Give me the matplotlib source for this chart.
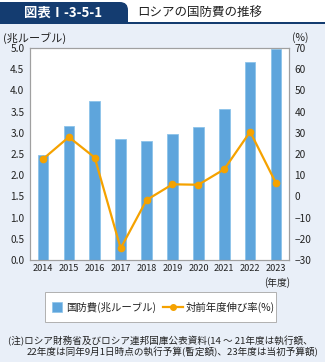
import matplotlib
matplotlib.use('Agg')
import matplotlib.pyplot as plt
from matplotlib.patches import Rectangle, FancyBboxPatch
from matplotlib.lines import Line2D

plt.rcParams['font.family'] = ['Noto Sans CJK JP', 'DejaVu Sans']
plt.rcParams['axes.unicode_minus'] = True

years = ['2014', '2015', '2016', '2017', '2018', '2019', '2020', '2021', '2022', '2023']
spending = [2.48, 3.16, 3.75, 2.85, 2.81, 2.98, 3.14, 3.55, 4.66, 4.98]
growth = [17.6, 28.0, 18.3, -24.5, -1.7, 5.7, 5.5, 12.8, 30.5, 6.2]
left_ticks = [0.0, 0.5, 1.0, 1.5, 2.0, 2.5, 3.0, 3.5, 4.0, 4.5, 5.0]
right_ticks = [-30, -20, -10, 0, 10, 20, 30, 40, 50, 60, 70]

W, H = 325, 362
BAR = '#5ea5dc'
ORANGE = '#f5a200'
NAVY = '#143c70'
TXT = '#222222'


def fx(x):
    return x / W


def fy(y):
    return 1 - y / H


fig = plt.figure(figsize=(W / 100, H / 100), dpi=100)
fig.patch.set_facecolor('#e9eff8')

# header area: white strip, navy tab with rounded top-right corner, navy rule
fig.add_artist(Rectangle((0, fy(23)), 1, 23 / H, transform=fig.transFigure,
                         facecolor='white', edgecolor='none'))
fig.add_artist(FancyBboxPatch((fx(-20), fy(23)), fx(148), 21 / H,
                              boxstyle='round,pad=0,rounding_size=0.025',
                              transform=fig.transFigure, facecolor=NAVY,
                              edgecolor='none', mutation_aspect=W / H))
fig.add_artist(Rectangle((0, fy(23)), fx(128), 10 / H, transform=fig.transFigure,
                         facecolor=NAVY, edgecolor='none'))
fig.add_artist(Rectangle((0, fy(24)), 1, 2 / H, transform=fig.transFigure,
                         facecolor=NAVY, edgecolor='none'))
fig.text(fx(63), fy(12.5), '図表Ⅰ-3-5-1', color='white', fontsize=9.6,
         fontweight='bold', ha='center', va='center')
fig.text(fx(137), fy(12.5), 'ロシアの国防費の推移', color=TXT, fontsize=9,
         ha='left', va='center')

ax = fig.add_axes([fx(30), fy(260), 259 / W, 212 / H])
ax.set_facecolor('white')
x = range(len(years))
ax.bar(x, spending, width=0.41, color=BAR, edgecolor='#8cc3ea', linewidth=0.6,
       zorder=2)
ax.set_xlim(-0.5, len(years) - 0.5)
ax.set_ylim(0, 5.0)
ax.set_yticks(left_ticks)
ax.set_yticklabels([f'{v:.1f}' for v in left_ticks])
ax.set_xticks(list(x))
ax.set_xticklabels(years)
ax.tick_params(length=0, labelsize=7.3, labelcolor=TXT, pad=4)
ax.tick_params(axis='x', labelsize=6.6, pad=3)
for s in ax.spines.values():
    s.set_color('#a0a0a0')
    s.set_linewidth(0.8)

ax2 = ax.twinx()
ax2.plot(x, growth, color=ORANGE, lw=1.6, marker='o', markersize=4.5, zorder=3)
ax2.set_ylim(-30, 70)
ax2.set_yticks(right_ticks)
ax2.set_yticklabels([str(v).replace('-', '\u2212') for v in right_ticks])
ax2.tick_params(length=0, labelsize=7.3, labelcolor=TXT, pad=4)
for s in ax2.spines.values():
    s.set_color('#a0a0a0')
    s.set_linewidth(0.8)

fig.text(fx(3), fy(38), '(兆ルーブル)', fontsize=8, color=TXT, ha='left', va='center')
fig.text(fx(292), fy(38), '(%)', fontsize=7.5, color=TXT, ha='left', va='center')
fig.text(fx(277), fy(283), '(年度)', fontsize=7, color=TXT, ha='center', va='center')

# legend box
fig.add_artist(Rectangle((fx(45), fy(322)), 231 / W, 30 / H, transform=fig.transFigure,
                         facecolor='white', edgecolor='#b0b0b0', linewidth=0.7))
fig.add_artist(Rectangle((fx(52), fy(312)), 10 / W, 10 / H, transform=fig.transFigure,
                         facecolor=BAR, edgecolor='#8cc3ea', linewidth=0.5))
fig.text(fx(66), fy(307), '国防費(兆ルーブル)', fontsize=7.5, color=TXT, ha='left', va='center')
fig.add_artist(Line2D([fx(163), fx(183)], [fy(307), fy(307)], transform=fig.transFigure,
                      color=ORANGE, lw=1.6))
fig.add_artist(Line2D([fx(173)], [fy(307)], transform=fig.transFigure, color=ORANGE,
                      marker='o', markersize=4))
fig.text(fx(186), fy(307), '対前年度伸び率(%)', fontsize=7.5, color=TXT, ha='left', va='center')

fig.text(fx(8), fy(341), '(注)ロシア財務省及びロシア連邦国庫公表資料(14 ～ 21年度は執行額、',
         fontsize=6.9, color=TXT, ha='left', va='center')
fig.text(fx(27), fy(352), '22年度は同年9月1日時点の執行予算(暫定額)、23年度は当初予算額)',
         fontsize=6.9, color=TXT, ha='left', va='center')

fig.savefig('out.png', dpi=100)
